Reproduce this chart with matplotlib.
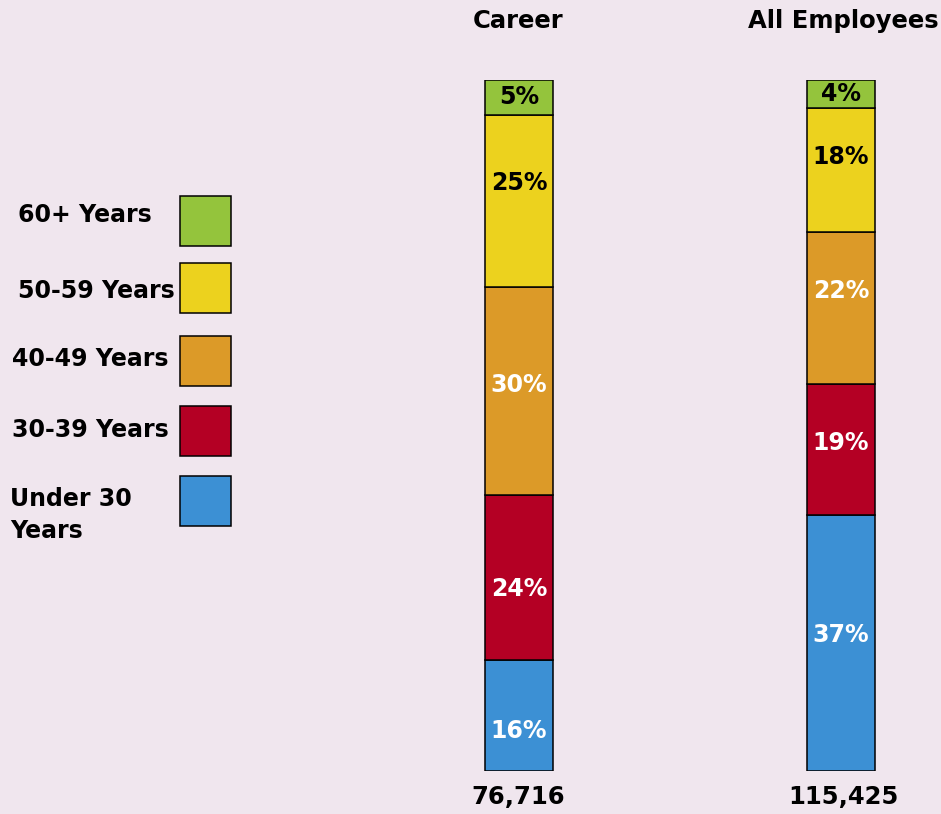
import numpy as np
import matplotlib.pyplot as plt
from matplotlib.patches import Rectangle

plt.rcParams['font.family'] = ['DejaVu Sans']

# Data
groups = ['Career', 'All Employees']
totals = ['76,716', '115,425']
age_bands = ['Under 30\nYears', '30-39 Years', '40-49 Years', '50-59 Years', '60+ Years']
career_pct = [16, 24, 30, 25, 5]
all_pct = [37, 19, 22, 18, 4]

colors = ['#3c90d4', '#b40024', '#dc9a28', '#ecd21e', '#94c43c']
text_colors = ['white', 'white', 'white', 'black', 'black']
bg = '#f0e6ee'

# label nudges (in % units) so labels sit where the original puts them
nudges = [[-2.2, -1.6, 0.9, 2.6, 0.0],
          [1.2, 0.9, 2.4, 1.9, 0.0]]

W, H = 941, 814
fig = plt.figure(figsize=(W / 100, H / 100), dpi=100)
fig.patch.set_facecolor(bg)

# Bars axes: bottom at y=771px, top at y=80px
ax = fig.add_axes([0, (H - 771) / H, 1, (771 - 80) / H])
ax.set_xlim(0, W)
ax.set_ylim(0, 100)
ax.axis('off')

xpos = [519, 841]
bar_w = 68
for x, vals, nd in zip(xpos, [career_pct, all_pct], nudges):
    bottom = 0
    for v, c, tc, n in zip(vals, colors, text_colors, nd):
        ax.bar(x, v, bottom=bottom, width=bar_w, color=c, edgecolor='black', linewidth=1.1)
        ax.text(x, bottom + v / 2 + n, f'{v}%', ha='center', va='center',
                fontsize=17, fontweight='bold', color=tc)
        bottom += v

# Titles and totals in pixel coordinates
canvas = fig.add_axes([0, 0, 1, 1], zorder=-1)
canvas.set_xlim(0, W)
canvas.set_ylim(H, 0)
canvas.axis('off')
canvas.patch.set_alpha(0)

title_x = [518, 843]
for tx, name, tot in zip(title_x, groups, totals):
    canvas.text(tx, 21, name, ha='center', va='center', fontsize=17.5, fontweight='bold')
    canvas.text(tx, 797, tot, ha='center', va='center', fontsize=17.5, fontweight='bold')

# Legend
box_tops = [476, 406, 336, 263, 196]
label_x = [10, 12, 12, 18, 18]
label_y = [515, 430, 359, 291, 215]
for lab, c, top, lx, ly in zip(age_bands, colors, box_tops, label_x, label_y):
    canvas.add_patch(Rectangle((180, top), 51, 50, facecolor=c, edgecolor='black', linewidth=1.1))
    canvas.text(lx, ly, lab, ha='left', va='center', fontsize=17, fontweight='bold',
                linespacing=1.45)

fig.savefig('out.png', dpi=100, facecolor=bg)
